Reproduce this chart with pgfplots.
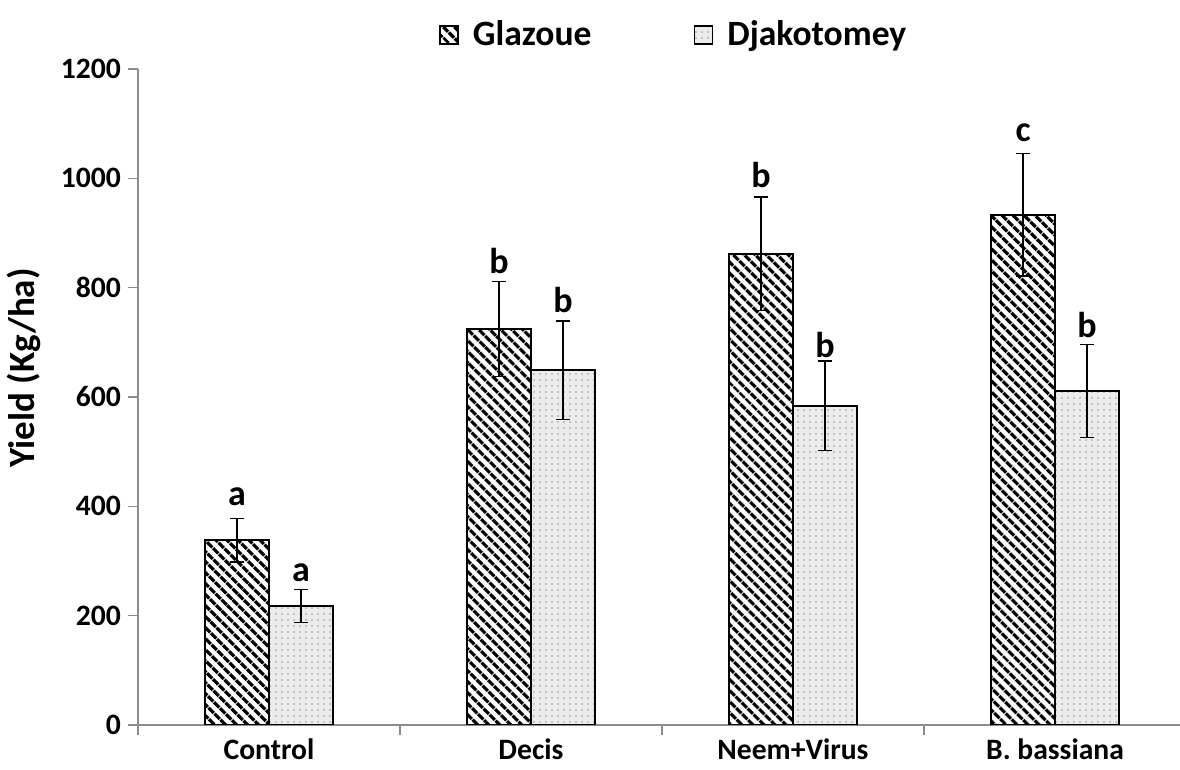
\documentclass[border=0pt]{standalone}
\usepackage{fontspec}
\setmainfont{Carlito}
\usepackage{pgfplots}
\pgfplotsset{compat=1.18}
\usetikzlibrary{patterns.meta}
\definecolor{axgray}{HTML}{8C8C8C}
\pgfplotsset{
  glzleg/.style={legend image code/.code={\draw[##1] (0pt,-4.5pt) rectangle (9pt,4.5pt);}},
  djkleg/.style={legend image code/.code={\draw[##1, draw=none] (0pt,-4.5pt) rectangle (9pt,4.5pt);}},
}
\begin{document}
\begin{tikzpicture}
\useasboundingbox (-69pt,-22.5pt) rectangle (521pt,362.5pt);
\begin{axis}[
  scale only axis, width=521pt, height=328pt,
  at={(0,0)}, anchor=south west,
  xmin=-0.5, xmax=3.477, ymin=0, ymax=1200,
  axis x line=bottom, axis y line=left,
  axis line style={draw=axgray, line width=0.75pt, -},
  ytick={0,200,400,600,800,1000,1200},
  xtick={-0.5,0.5,1.5,2.5}, xticklabels={},
  extra x ticks={0,1,2,3},
  extra x tick labels={Control,Decis,Neem+Virus,B. bassiana},
  extra x tick style={major tick length=0pt, xticklabel style={yshift=-3.5pt}},
  tick align=outside, major tick length=5pt,
  tick style={draw=axgray, line width=0.75pt},
  ticklabel style={font=\fontsize{14.8}{17}\selectfont\bfseries},
  /pgf/number format/assume math mode=true,
  /pgf/number format/1000 sep={},
  ylabel={Yield (Kg/ha)},
  every axis y label/.style={at={(axis description cs:-0.1094,0.544)}, rotate=90, anchor=center, font=\fontsize{18.5}{20}\selectfont\bfseries},
  ybar=0pt, bar width=0.244,
  legend style={at={(0.515,1)}, anchor=south, yshift=6pt, draw=none, fill=none,
    font=\fontsize{17.8}{20}\selectfont\bfseries, legend columns=2,
    /tikz/every odd column/.append style={column sep=5pt},
    /tikz/every even column/.append style={column sep=49pt}},
]
\addplot[draw=black, line width=0.9pt, fill=white,
  postaction={pattern={Lines[angle=-45,distance=4pt,line width=1.8pt]}, pattern color=black},
  glzleg,
  error bars/.cd, y dir=both, y explicit,
  error bar style={black, line width=0.7pt},
  error mark options={rotate=90, mark size=3.5pt, black, line width=0.7pt}]
coordinates {(0,338) +- (0,40) (1,724) +- (0,87) (2,862) +- (0,104) (3,933) +- (0,112)};
\addlegendentry{Glazoue}
\addplot[draw=black, line width=0.9pt, fill=gray!15,
  postaction={pattern={Dots[distance=3pt,radius=0.45pt]}, pattern color=gray!80},
  djkleg,
  error bars/.cd, y dir=both, y explicit,
  error bar style={black, line width=0.7pt},
  error mark options={rotate=90, mark size=3.5pt, black, line width=0.7pt}]
coordinates {(0,218) +- (0,30) (1,649) +- (0,90) (2,584) +- (0,82) (3,611) +- (0,85)};
\addlegendentry{Djakotomey}
\begin{scope}[every node/.style={anchor=base, font=\fontsize{18}{20}\selectfont\bfseries}]
\node at (axis cs:-0.122,402) {a};
\node at (axis cs:0.122,262) {a};
\node at (axis cs:0.878,825) {b};
\node at (axis cs:1.122,754) {b};
\node at (axis cs:1.878,984) {b};
\node at (axis cs:2.122,673) {b};
\node at (axis cs:2.878,1068) {c};
\node at (axis cs:3.122,708) {b};
\end{scope}
\end{axis}
\end{tikzpicture}
\end{document}
